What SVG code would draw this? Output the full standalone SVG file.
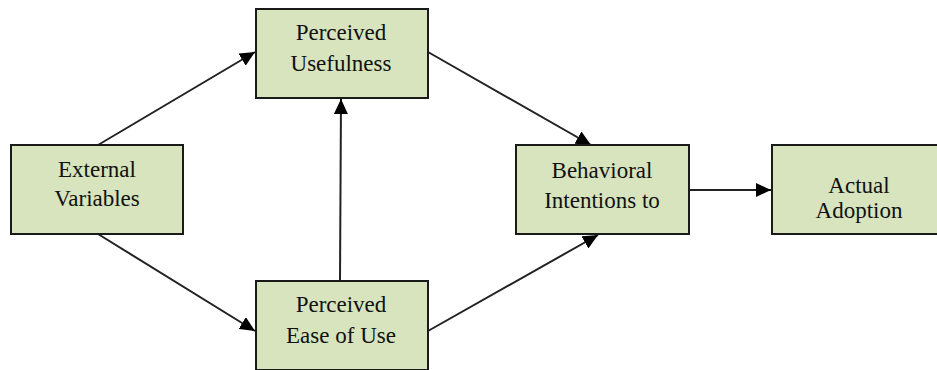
<svg xmlns="http://www.w3.org/2000/svg" width="937" height="370" viewBox="0 0 937 370">
  <defs>
    <marker id="head" markerUnits="userSpaceOnUse" markerWidth="15" markerHeight="14" refX="15" refY="7" orient="auto">
      <path d="M0,0 L15,7 L0,14 z" fill="#000"/>
    </marker>
    <!-- shared node frame; each node places it with <use> -->
    <rect id="frame" width="172" height="89" fill="#d7e4bd" stroke="#1a1a1a" stroke-width="2"/>
  </defs>
  <rect width="937" height="370" fill="#fff"/>

  <g id="connectors" stroke="#222" stroke-width="2" fill="none" marker-end="url(#head)">
    <line x1="98" y1="145" x2="255" y2="52"/>
    <line x1="98" y1="234" x2="255" y2="331"/>
    <line x1="340" y1="281" x2="341" y2="99"/>
    <line x1="428" y1="52" x2="591" y2="145"/>
    <line x1="428" y1="331" x2="598" y2="235"/>
    <line x1="689" y1="190" x2="771" y2="190"/>
  </g>

  <g font-family="Liberation Serif" font-size="23" fill="#111" text-anchor="middle">
    <g id="perceived-usefulness">
      <use href="#frame" x="256" y="9"/>
      <text x="341" y="40">Perceived</text>
      <text x="341" y="71">Usefulness</text>
    </g>

    <g id="external-variables">
      <use href="#frame" x="11" y="145"/>
      <text x="97" y="177">External</text>
      <text x="97" y="206">Variables</text>
    </g>

    <g id="perceived-ease-of-use">
      <use href="#frame" x="256" y="281"/>
      <text x="341" y="312">Perceived</text>
      <text x="341" y="343">Ease of Use</text>
    </g>

    <g id="behavioral-intentions">
      <rect x="516" y="145" width="173" height="89" fill="#d7e4bd" stroke="#1a1a1a" stroke-width="2"/>
      <text x="602" y="178">Behavioral</text>
      <text x="602" y="208">Intentions to</text>
    </g>

    <g id="actual-adoption">
      <rect x="772" y="145" width="174" height="89" fill="#d7e4bd" stroke="#1a1a1a" stroke-width="2"/>
      <text x="859" y="193">Actual</text>
      <text x="859" y="218">Adoption</text>
    </g>
  </g>
</svg>
